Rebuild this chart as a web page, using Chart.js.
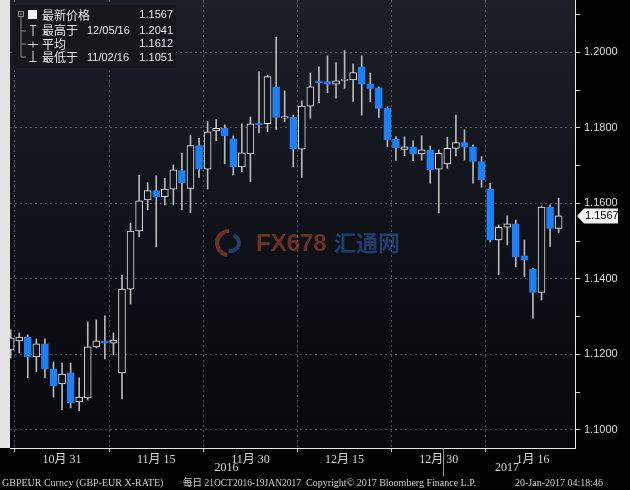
<!DOCTYPE html>
<html>
<head>
<meta charset="utf-8">
<script src="https://cdn.jsdelivr.net/npm/chart.js@4.4.1/dist/chart.umd.min.js"></script>
<style>
  html, body { margin: 0; padding: 0; background: #000; }
  #wrap { width: 630px; height: 490px; }
</style>
</head>
<body>
<div id="wrap"><canvas id="myChart" width="630" height="490"></canvas></div>
<script>
// GBPEUR daily, 21 Oct 2016 - 19 Jan 2017
var dates = [
  "10/21", "10/24", "10/25", "10/26", "10/27", "10/28", "10/31",
  "11/01", "11/02", "11/03", "11/04", "11/07", "11/08", "11/09", "11/10", "11/11",
  "11/14", "11/15", "11/16", "11/17", "11/18", "11/21", "11/22", "11/23", "11/24", "11/25",
  "11/28", "11/29", "11/30", "12/01", "12/02", "12/05", "12/06", "12/07", "12/08", "12/09",
  "12/12", "12/13", "12/14", "12/15", "12/16", "12/19", "12/20", "12/21", "12/22", "12/23",
  "12/26", "12/27", "12/28", "12/29", "12/30", "01/02", "01/03", "01/04", "01/05", "01/06",
  "01/09", "01/10", "01/11", "01/12", "01/13", "01/16", "01/17", "01/18", "01/19"
];
var open = [
  1.1212, 1.1236, 1.1246, 1.1193, 1.1228, 1.1162, 1.1122,
  1.1151, 1.1074, 1.1085, 1.1220, 1.1236, 1.1230, 1.1151, 1.1373, 1.1527,
  1.1609, 1.1634, 1.1618, 1.1638, 1.1687, 1.1640, 1.1753, 1.1691, 1.1792, 1.1799,
  1.1771, 1.1697, 1.1731, 1.1813, 1.1811, 1.1909, 1.1826, 1.1828, 1.1744, 1.1858,
  1.1925, 1.1923, 1.1916, 1.1926, 1.1927, 1.1962, 1.1916, 1.1906, 1.1852, 1.1770,
  1.1743, 1.1750, 1.1731, 1.1742, 1.1691, 1.1705, 1.1746, 1.1761, 1.1750, 1.1711,
  1.1638, 1.1503, 1.1537, 1.1546, 1.1461, 1.1426, 1.1364, 1.1590, 1.1534
];
var high = [
  1.1265, 1.1257, 1.1252, 1.1241, 1.1241, 1.1180, 1.1177,
  1.1177, 1.1138, 1.1286, 1.1291, 1.1302, 1.1257, 1.1410, 1.1548, 1.1675,
  1.1655, 1.1673, 1.1667, 1.1702, 1.1733, 1.1781, 1.1773, 1.1817, 1.1822, 1.1808,
  1.1779, 1.1811, 1.1829, 1.1949, 1.1940, 1.2041, 1.1898, 1.1834, 1.1872, 1.1945,
  1.1962, 1.1991, 1.1973, 1.2005, 1.1969, 1.1991, 1.1945, 1.1909, 1.1856, 1.1777,
  1.1777, 1.1766, 1.1779, 1.1752, 1.1742, 1.1775, 1.1834, 1.1795, 1.1755, 1.1724,
  1.1653, 1.1543, 1.1567, 1.1556, 1.1503, 1.1428, 1.1593, 1.1596, 1.1614
];
var low = [
  1.1191, 1.1204, 1.1138, 1.1154, 1.1138, 1.1087, 1.1053,
  1.1058, 1.1051, 1.1079, 1.1217, 1.1188, 1.1199, 1.1082, 1.1334, 1.1511,
  1.1583, 1.1485, 1.1596, 1.1596, 1.1583, 1.1576, 1.1669, 1.1638, 1.1766, 1.1705,
  1.1675, 1.1684, 1.1658, 1.1787, 1.1790, 1.1796, 1.1817, 1.1697, 1.1669, 1.1826,
  1.1866, 1.1893, 1.1879, 1.1905, 1.1870, 1.1834, 1.1870, 1.1828, 1.1751, 1.1714,
  1.1726, 1.1713, 1.1715, 1.1653, 1.1575, 1.1693, 1.1726, 1.1715, 1.1654, 1.1643,
  1.1499, 1.1411, 1.1490, 1.1432, 1.1406, 1.1296, 1.1344, 1.1486, 1.1523
];
var close = [
  1.1244, 1.1246, 1.1193, 1.1228, 1.1162, 1.1117, 1.1148,
  1.1072, 1.1087, 1.1220, 1.1236, 1.1230, 1.1238, 1.1373, 1.1527, 1.1607,
  1.1634, 1.1618, 1.1638, 1.1689, 1.1655, 1.1753, 1.1691, 1.1790, 1.1799, 1.1779,
  1.1697, 1.1734, 1.1811, 1.1808, 1.1936, 1.1828, 1.1830, 1.1744, 1.1858, 1.1909,
  1.1920, 1.1916, 1.1925, 1.1928, 1.1947, 1.1916, 1.1905, 1.1852, 1.1769, 1.1748,
  1.1750, 1.1732, 1.1742, 1.1689, 1.1733, 1.1746, 1.1761, 1.1750, 1.1711, 1.1663,
  1.1503, 1.1537, 1.1546, 1.1459, 1.1450, 1.1364, 1.1590, 1.1534, 1.1567
];

var tickDates = ["10/31", "11/15", "11/30", "12/15", "12/30", "01/16"];
var tickText = ["10月 31", "11月 15", "11月 30", "12月 15", "12月 30", "1月 16"];
var years = ["2016", "2017"];
var yearStart = ["10/21", "01/02"];
var yTicks = [1.10, 1.11, 1.12, 1.13, 1.14, 1.15, 1.16, 1.17, 1.18, 1.19, 1.20, 1.21];

var legendNames = ["最新价格", "最高于", "平均", "最低于"];
var legendDates = ["", "12/05/16", "", "11/02/16"];
var legendValues = ["1.1567", "1.2041", "1.1612", "1.1051"];
var lastPrice = 1.1567;

var footerParts = [
  "GBPEUR Curncy (GBP-EUR X-RATE)",
  "每日 21OCT2016-19JAN2017",
  "Copyright© 2017 Bloomberg Finance L.P.",
  "20-Jan-2017 04:18:46"
];

var tickIdx = tickDates.map(function (d) { return dates.indexOf(d); });
var isUp = function (i) { return close[i] >= open[i]; };

var bgPlugin = {
  id: "bg",
  beforeDraw: function (chart) {
    var c = chart.ctx, a = chart.chartArea;
    c.save();
    c.fillStyle = "#000";
    c.fillRect(0, 0, chart.width, chart.height);
    c.fillStyle = "#e4e4e4";
    c.fillRect(0, 0, a.left, a.bottom);
    var g = c.createLinearGradient(0, a.top, 0, a.bottom);
    g.addColorStop(0, "#1d2028");
    g.addColorStop(0.5, "#10121a");
    g.addColorStop(1, "#07080c");
    c.fillStyle = g;
    c.fillRect(a.left, a.top, a.right - a.left, a.bottom - a.top);
    c.restore();
  },
  beforeDatasetsDraw: function (chart) {
    // FX678 watermark
    var c = chart.ctx;
    c.save();
    c.globalAlpha = 0.5;
    c.lineWidth = 4;
    c.strokeStyle = "#c5532c";
    c.beginPath();
    c.arc(229, 243, 12, Math.PI * 0.55, Math.PI * 1.5);
    c.stroke();
    c.strokeStyle = "#2f6cc0";
    c.beginPath();
    c.arc(231, 243, 8, Math.PI * 1.6, Math.PI * 0.6);
    c.stroke();
    c.font = "bold 24px 'Liberation Sans', sans-serif";
    c.fillStyle = "#c5532c";
    c.textBaseline = "middle";
    c.fillText("FX678", 256, 244);
    c.font = "bold 22px 'Noto Sans CJK SC', sans-serif";
    c.fillStyle = "#2f6cc0";
    c.fillText("汇通网", 334, 243);
    c.restore();
  }
};

var overlayPlugin = {
  id: "overlay",
  afterDraw: function (chart) {
    var c = chart.ctx, a = chart.chartArea;
    var xs = chart.scales.x, ys = chart.scales.y;
    c.save();

    // legend box
    c.fillStyle = "rgba(22,23,28,0.95)";
    c.fillRect(12, 5, 164, 63);
    c.strokeStyle = "#8a8a8a";
    c.lineWidth = 1;
    c.strokeRect(18.5, 11.5, 5, 5);
    c.beginPath();
    c.moveTo(19.5, 14); c.lineTo(22.5, 14);
    c.moveTo(21, 17); c.lineTo(21, 57);
    c.moveTo(21, 31); c.lineTo(26, 31);
    c.moveTo(21, 44); c.lineTo(26, 44);
    c.moveTo(21, 57); c.lineTo(26, 57);
    c.stroke();
    c.fillStyle = "#f2f2f2";
    c.fillRect(28, 10, 9, 9);
    c.strokeStyle = "#d8d8d8";
    c.beginPath();
    c.moveTo(30, 25.5); c.lineTo(36, 25.5);
    c.moveTo(33, 25.5); c.lineTo(33, 36);
    c.moveTo(28, 44.5); c.lineTo(38, 44.5);
    c.moveTo(33, 41.5); c.lineTo(33, 47.5);
    c.moveTo(33, 51); c.lineTo(33, 61.5);
    c.moveTo(29.5, 61.5); c.lineTo(36.5, 61.5);
    c.stroke();

    var rowY = [15, 30.5, 44, 57.5];
    c.textBaseline = "middle";
    for (var r = 0; r < legendNames.length; r++) {
      c.fillStyle = "#e8e8e8";
      c.textAlign = "left";
      c.font = "12px 'Noto Sans CJK SC', sans-serif";
      c.fillText(legendNames[r], 42, rowY[r]);
      c.font = "11px 'Liberation Sans', sans-serif";
      if (legendDates[r]) c.fillText(legendDates[r], 87, rowY[r]);
      c.textAlign = "right";
      c.fillText(legendValues[r], 173, rowY[r]);
    }

    // last price tag on the right axis
    var py = ys.getPixelForValue(lastPrice);
    c.fillStyle = "#f4f4f4";
    c.beginPath();
    c.moveTo(577, py);
    c.lineTo(584, py - 7.5);
    c.lineTo(618, py - 7.5);
    c.lineTo(618, py + 7.5);
    c.lineTo(584, py + 7.5);
    c.closePath();
    c.fill();
    c.fillStyle = "#000";
    c.textAlign = "left";
    c.font = "11px 'Liberation Sans', sans-serif";
    c.fillText(lastPrice.toFixed(4), 585, py + 0.5);

    // year labels and separator
    var sepX = xs.getPixelForValue(dates.indexOf(yearStart[1]) - 0.5);
    c.strokeStyle = "#9a9a9a";
    c.beginPath();
    c.moveTo(Math.round(sepX) + 0.5, a.bottom);
    c.lineTo(Math.round(sepX) + 0.5, a.bottom + 28);
    c.stroke();
    c.fillStyle = "#d8d8d8";
    c.textAlign = "center";
    c.font = "12px 'Liberation Serif', serif";
    c.fillText(years[0], (a.left + sepX) / 2, a.bottom + 20);
    c.fillText(years[1], (sepX + a.right) / 2 - 2, a.bottom + 20);

    // footer
    c.fillStyle = "#cfcfcf";
    c.textAlign = "left";
    c.font = "10px 'Liberation Serif', 'Noto Sans CJK SC', serif";
    var fx = [2, 183, 306, 515];
    var fw = [172, 118, 200, 110];
    for (var k = 0; k < footerParts.length; k++) {
      c.fillText(footerParts[k], fx[k], 483, fw[k]);
    }
    c.restore();
  }
};

var ctx = document.getElementById("myChart").getContext("2d");
var newChart = new Chart(ctx, {
  type: "bar",
  plugins: [bgPlugin, overlayPlugin],
  data: {
    datasets: [
      {
        label: "body",
        order: 0,
        grouped: false,
        barThickness: 7,
        minBarLength: 1,
        borderWidth: 1,
        borderSkipped: false,
        data: dates.map(function (d, i) { return { x: i, y: [open[i], close[i]] }; }),
        backgroundColor: dates.map(function (d, i) { return isUp(i) ? "#11131a" : "#1f80f5"; }),
        borderColor: dates.map(function (d, i) { return isUp(i) ? "#e6e6e6" : "#1f80f5"; }),
      },
      {
        label: "wick",
        order: 1,
        grouped: false,
        barThickness: 1,
        borderWidth: 0,
        data: dates.map(function (d, i) { return { x: i, y: [low[i], high[i]] }; }),
        backgroundColor: "#b8b8b8",
      },
    ],
  },
  options: {
    responsive: false,
    animation: false,
    events: [],
    layout: { padding: { left: 10, top: 0, right: 0, bottom: 0 } },
    plugins: {
      legend: { display: false },
      tooltip: { enabled: false },
    },
    scales: {
      x: {
        type: "linear",
        min: -0.08,
        max: 65.91,
        offset: false,
        afterBuildTicks: function (s) {
          s.ticks = tickIdx.map(function (v) { return { value: v }; });
        },
        afterFit: function (s) {
          s.height = 42;
          s.paddingLeft = 0;
          s.paddingRight = 0;
        },
        ticks: {
          autoSkip: false,
          maxRotation: 0,
          padding: 1,
          color: "#d8d8d8",
          font: { family: "'Liberation Serif', 'Noto Sans CJK SC', serif", size: 12 },
          callback: function (v) { return tickText[tickIdx.indexOf(v)]; },
        },
        grid: {
          color: "rgba(140,140,140,0.55)",
          lineWidth: 1,
          tickLength: 4,
          tickColor: "#cfcfcf",
        },
        border: { display: true, color: "#e8e8e8", width: 1, dash: [2, 3] },
      },
      y: {
        position: "right",
        min: 1.0952,
        max: 1.2139,
        afterBuildTicks: function (s) {
          s.ticks = yTicks.map(function (v) { return { value: v }; });
        },
        afterFit: function (s) {
          s.width = 55;
          s.paddingTop = 0;
          s.paddingBottom = 0;
        },
        ticks: {
          padding: 4,
          color: "#dcdcdc",
          font: { family: "'Liberation Sans', sans-serif", size: 11 },
          callback: function (v) {
            return Math.round(v * 100) % 2 === 0 ? v.toFixed(4) : "";
          },
        },
        grid: {
          color: function (c) {
            var v = c.tick ? c.tick.value : 0;
            return Math.round(v * 100) % 2 === 0 ? "rgba(140,140,140,0.55)" : "rgba(0,0,0,0)";
          },
          lineWidth: 1,
          tickLength: 5,
          tickColor: "#cfcfcf",
        },
        border: { display: true, color: "#e8e8e8", width: 1, dash: [2, 3] },
      },
    },
  },
});
</script>
</body>
</html>
